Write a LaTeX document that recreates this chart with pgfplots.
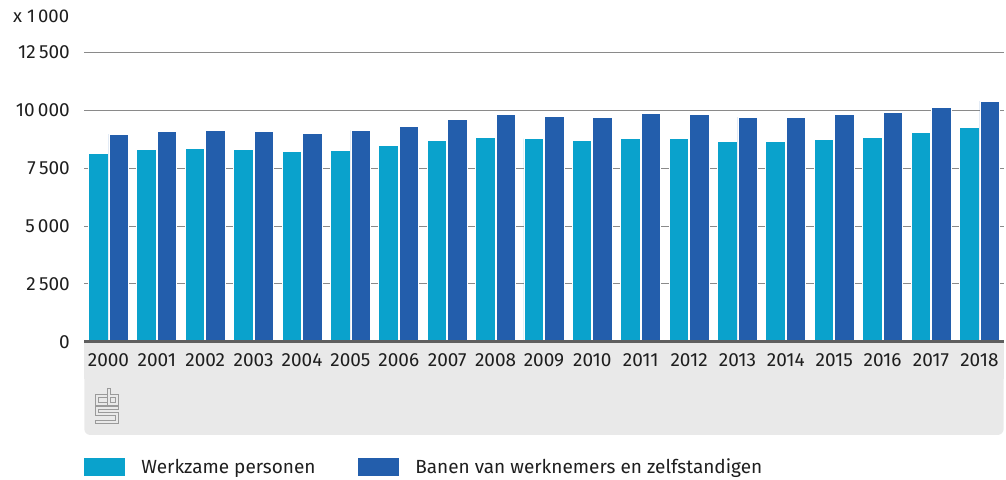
\documentclass[border=0pt]{standalone}
\usepackage{pgfplots}
\pgfplotsset{compat=1.18}
\usepackage{fontspec}
\setmainfont{Fira Sans}
\definecolor{lightbar}{HTML}{0AA2CC}
\definecolor{darkbar}{HTML}{235EAC}
\definecolor{band}{HTML}{E9E9E9}
\definecolor{axgray}{HTML}{5E5E5E}
\definecolor{gridgray}{HTML}{8A8A8A}
\definecolor{txt}{HTML}{1E1E1E}
\definecolor{logogray}{HTML}{9A9A9A}
\begin{document}
\begin{tikzpicture}[x=1pt,y=1pt]
\path[use as bounding box] (0,0) rectangle (1006,479);
\fill[band, rounded corners=6pt] (84.3,44) rectangle (1003.6,137.3);
\fill[band] (84.3,100) rectangle (1003.6,137.3);
% CBS logo (approximation)
\begin{scope}[draw=logogray, line width=0.7pt]
\draw (106.5,85) -- (95.5,85) -- (95.5,74) -- (106.5,74);
\draw (106.5,82) -- (98.5,82) -- (98.5,77) -- (106.5,77);
\draw (107,91) -- (107,74) -- (118.3,74) -- (118.3,85) -- (110,85) -- (110,91) -- cycle;
\draw (110,82) -- (115.3,82) -- (115.3,77) -- (110,77) -- cycle;
\draw (118.3,73) -- (95.5,73) -- (95.5,64) -- (115.3,64) -- (115.3,59) -- (95.5,59) -- (95.5,56) -- (118.3,56) -- (118.3,67) -- (98.5,67) -- (98.5,70) -- (118.3,70) -- cycle;
\end{scope}
\node[anchor=west, inner sep=0pt, font=\fontsize{18.5}{20}\selectfont, text=txt] at (13,462.3) {x 1\,000};
\begin{axis}[
  at={(84.3pt,137.3pt)}, anchor=south west,
  scale only axis, width=919.3pt, height=289.4pt,
  ymin=0, ymax=12500, xmin=-0.5, xmax=18.5,
  scaled y ticks=false,
  ytick={0,2500,5000,7500,10000,12500},
  yticklabels={0,2\,500,5\,000,7\,500,10\,000,12\,500},
  xtick={0,...,18},
  xticklabels={2000,2001,2002,2003,2004,2005,2006,2007,2008,2009,2010,2011,2012,2013,2014,2015,2016,2017,2018},
  ymajorgrids, grid style={gridgray, line width=0.8pt},
  axis line style={draw=none},
  major tick length=0pt,
  tick label style={font=\fontsize{19}{21}\selectfont, text=txt},
  yticklabel style={xshift=-11pt},
  xticklabel style={yshift=-8pt},
  clip=false,
  ybar, bar width=19.5pt,
  legend columns=2,
  legend cell align=left,
  legend style={at={(0,-0.433)}, anchor=west, draw=none, fill=none,
    inner sep=0pt, outer sep=0pt, font=\fontsize{19}{21}\selectfont, text=txt,
    nodes={inner sep=0pt},
    /tikz/every odd column/.append style={column sep=16pt}},
  legend image code/.code={\fill[#1,draw=none] (0pt,-9pt) rectangle (41pt,9pt);},
]
\addplot[fill=lightbar, draw=white, line width=0.8pt, bar shift=-10.25pt] coordinates {
(0,8120) (1,8318) (2,8361) (3,8318) (4,8206) (5,8275) (6,8465) (7,8693) (8,8836) (9,8767)
(10,8693) (11,8767) (12,8767) (13,8650) (14,8650) (15,8723) (16,8836) (17,9038) (18,9267)};
\addlegendentry{\makebox[217pt][l]{Werkzame personen}}
\addplot[fill=darkbar, draw=white, line width=0.8pt, bar shift=10.25pt] coordinates {
(0,8965) (1,9081) (2,9124) (3,9068) (4,9008) (5,9124) (6,9310) (7,9611) (8,9814) (9,9728)
(10,9698) (11,9844) (12,9814) (13,9698) (14,9698) (15,9814) (16,9887) (17,10116) (18,10387)};
\addlegendentry{Banen van werknemers en zelfstandigen}
\draw[axgray, line width=3.5pt] (rel axis cs:0,0) -- (rel axis cs:1,0);
\end{axis}
\end{tikzpicture}
\end{document}
